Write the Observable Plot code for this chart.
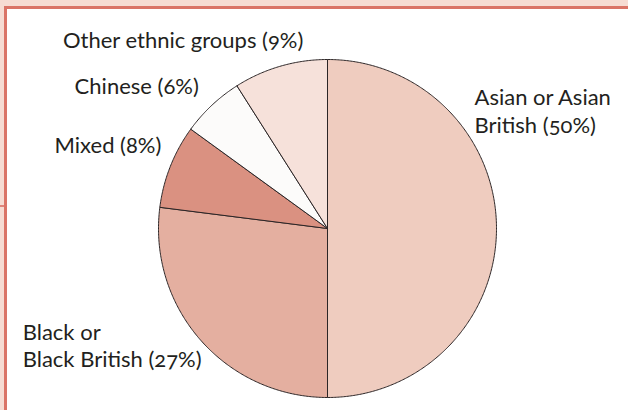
<!DOCTYPE html>
<html>
<head>
<meta charset="utf-8">
<script src="https://cdn.jsdelivr.net/npm/d3@7"></script>
<script src="https://cdn.jsdelivr.net/npm/@observablehq/plot@0.6"></script>
<style>
  html, body { margin: 0; padding: 0; background: #fff; width: 628px; height: 410px; overflow: hidden; position: relative; }
  #chart { position: absolute; left: 0; top: 0; }
  .deco { position: absolute; }
</style>
</head>
<body>
<div id="chart"></div>
<div class="deco" style="left:0;top:0;width:628px;height:6px;background:#f6dcd3"></div>
<div class="deco" style="left:0;top:0;width:4px;height:410px;background:#f6dcd3"></div>
<div class="deco" style="left:4px;top:6px;width:624px;height:3px;background:#da7467"></div>
<div class="deco" style="left:4px;top:6px;width:3px;height:404px;background:#da7467"></div>
<div class="deco" style="left:0;top:205px;width:4px;height:2px;background:#e0857a"></div>
<script>
// ---- data ----
const categories = ["Asian or Asian British", "Black or Black British", "Mixed", "Chinese", "Other ethnic groups"];
const shares = [50, 27, 8, 6, 9];
const labels = ["Asian or Asian\nBritish (50%)", "Black or\nBlack British (27%)", "Mixed (8%)", "Chinese (6%)", "Other ethnic groups (9%)"];
const colors = ["#efccbf", "#e4afa0", "#da9181", "#fcfbfa", "#f6e1da"];

// ---- label layout (pixel offsets from the slice's outer mid-point) ----
const labelLayout = [
  {anchor: "start", dx: -22, dy: -96},
  {anchor: "start", dx: -178, dy: 27},
  {anchor: "end", dx: -9, dy: -13},
  {anchor: "end", dx: -13, dy: -11},
  {anchor: "end", dx: 23, dy: -18}
];

const rows = categories.map((c, i) => ({category: c, share: shares[i], label: labels[i]}));
const arcs = d3.pie().sort(null).value(d => d.share)(rows);

// polygon outline of each slice in unit-circle coordinates (angle 0 = top, clockwise)
const slicePoints = arcs.flatMap(a => {
  const pts = [{category: a.data.category, x: 0, y: 0}];
  const n = Math.max(2, Math.ceil((a.endAngle - a.startAngle) / (Math.PI / 360)));
  for (let k = 0; k <= n; ++k) {
    const t = a.startAngle + (a.endAngle - a.startAngle) * k / n;
    pts.push({category: a.data.category, x: Math.sin(t), y: Math.cos(t)});
  }
  pts.push({category: a.data.category, x: 0, y: 0});
  return pts;
});

const labelPoints = arcs.map(a => {
  const t = (a.startAngle + a.endAngle) / 2;
  return {category: a.data.category, label: a.data.label, x: Math.sin(t), y: Math.cos(t)};
});

const textMarks = labelPoints.map((d, i) => Plot.text([d], {
  x: "x", y: "y", text: "label",
  textAnchor: labelLayout[i].anchor,
  lineAnchor: "bottom",
  lineHeight: 1.23,
  dx: labelLayout[i].dx, dy: labelLayout[i].dy,
  fill: "#231f20",
  fontSize: 22
}));

const chart = Plot.plot({
  width: 628,
  height: 410,
  marginLeft: 158,
  marginRight: 132,
  marginTop: 59,
  marginBottom: 13,
  x: {domain: [-1, 1], axis: null},
  y: {domain: [-1, 1], axis: null},
  color: {domain: categories, range: colors},
  style: {background: "transparent", fontFamily: "Lato, 'Open Sans', sans-serif", fontVariantNumeric: "oldstyle-nums", fontFeatureSettings: "'onum' 1"},
  marks: [
    Plot.line(slicePoints, {x: "x", y: "y", z: "category", fill: "category", stroke: "#2b2526", strokeWidth: 1, strokeLinejoin: "round", curve: "linear"}),
    ...textMarks
  ]
});
document.getElementById("chart").appendChild(chart);
</script>
</body>
</html>
